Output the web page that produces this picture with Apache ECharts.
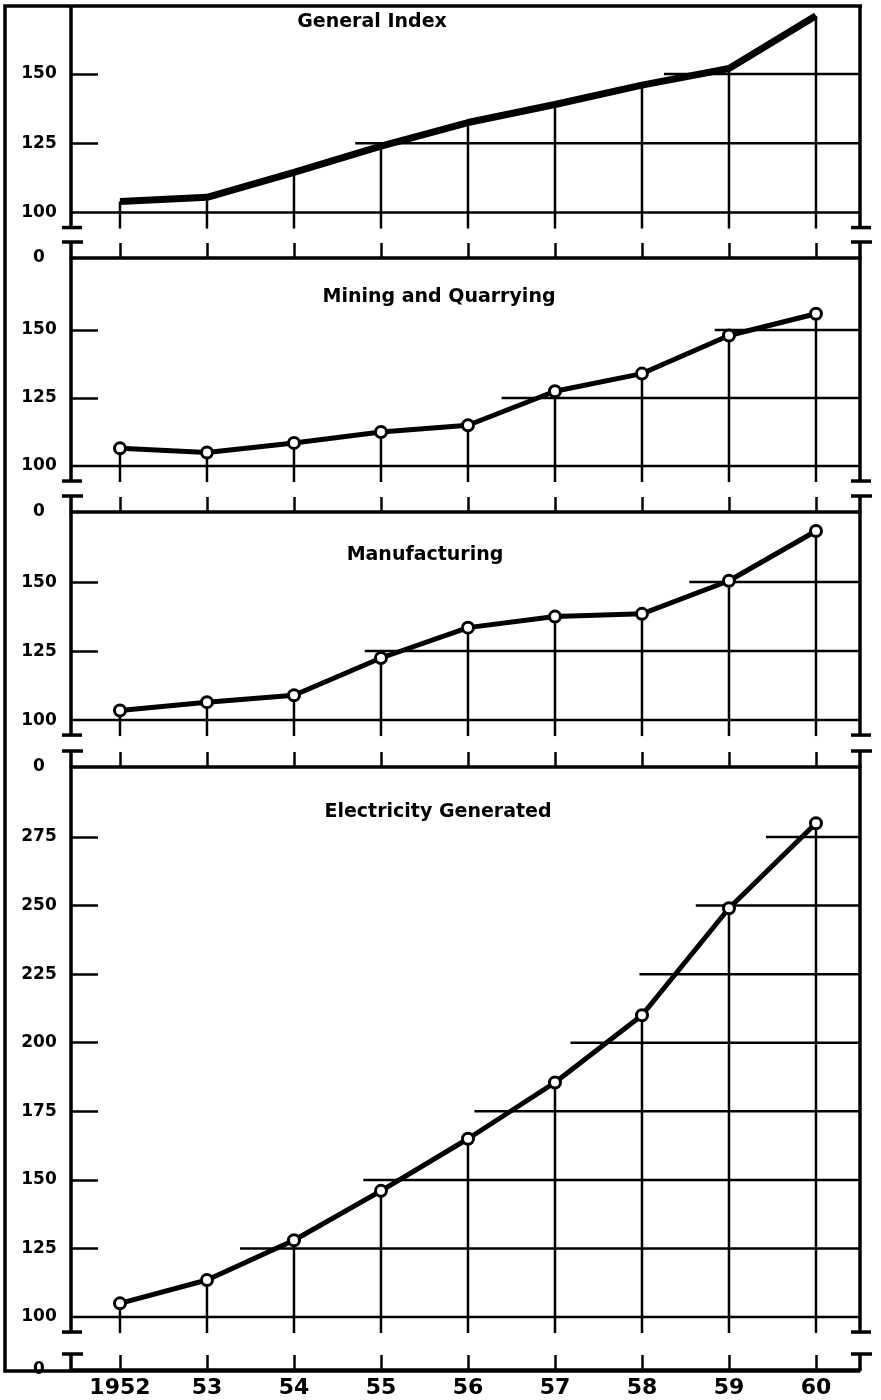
<!DOCTYPE html>
<html>
<head>
<meta charset="utf-8">
<title>Production indices 1952-60</title>
<script src="https://cdn.jsdelivr.net/npm/echarts@6/dist/echarts.min.js"></script>
<style>
  html, body { margin: 0; padding: 0; background: #fff; }
  #chart { width: 881px; height: 1400px; }
</style>
</head>
<body>
<div id="chart"></div>
<script>
  // years along the bottom and how they are printed
  const years = [1952, 1953, 1954, 1955, 1956, 1957, 1958, 1959, 1960];
  const yearLabels = ["1952", "53", "54", "55", "56", "57", "58", "59", "60"];

  // index values
  const generalIndex = [104, 105.5, 114.5, 124, 132.5, 139, 146, 152, 171];
  const miningQuarrying = [106.5, 105, 108.5, 112.5, 115, 127.5, 134, 148, 156];
  const manufacturing = [103.5, 106.5, 109, 122.5, 133.5, 137.5, 138.5, 150.5, 168.5];
  const electricity = [105, 113.5, 128, 146, 165, 185.5, 210, 249, 280];

  // gridline levels on the broken y axes, and their printed labels (0 sits below the break)
  const levelsSmall = [100, 125, 150];
  const levelsLarge = [100, 125, 150, 175, 200, 225, 250, 275];
  const yLabelsSmall = ["0", "100", "125", "150"];
  const yLabelsLarge = ["0", "100", "125", "150", "175", "200", "225", "250", "275"];

  const ink = "#000";
  const font = "DejaVu Sans";

  // layout of the four stacked panels
  const panels = [
    { title: "General Index", values: generalIndex, levels: levelsSmall, labels: yLabelsSmall,
      top: 7, height: 251, min: 83.6, max: 174.2, titleX: 372, titleY: 22, markers: false },
    { title: "Mining and Quarrying", values: miningQuarrying, levels: levelsSmall, labels: yLabelsSmall,
      top: 258, height: 254, min: 83.1, max: 176.5, titleX: 439, titleY: 297, markers: true },
    { title: "Manufacturing", values: manufacturing, levels: levelsSmall, labels: yLabelsSmall,
      top: 512, height: 255, min: 83, max: 175.4, titleX: 425, titleY: 555, markers: true },
    { title: "Electricity Generated", values: electricity, levels: levelsLarge, labels: yLabelsLarge,
      top: 767, height: 603, min: 80.7, max: 300.5, titleX: 438, titleY: 812, markers: true },
  ];

  const xMin = 1951.437;
  const xMax = 1960.506;

  // year where a series first climbs to a level
  function crossingYear(values, level) {
    if (values[0] >= level) return years[0];
    for (let i = 1; i < values.length; i++) {
      if (values[i] >= level) {
        return years[i - 1] + (level - values[i - 1]) / (values[i] - values[i - 1]);
      }
    }
    return null;
  }

  function seg(x1, y1, x2, y2, w) {
    return { type: "line", shape: { x1, y1, x2, y2 }, style: { stroke: ink, lineWidth: w } };
  }

  const grid = [];
  const xAxis = [];
  const yAxis = [];
  const series = [];

  panels.forEach((p, i) => {
    grid.push({ left: 71, right: 21, top: p.top, height: p.height });

    xAxis.push({
      gridIndex: i,
      type: "value",
      min: xMin,
      max: xMax,
      axisLine: { show: true, onZero: false, lineStyle: { color: ink, width: 3.5 } },
      axisTick: { show: true, inside: true, length: 15, customValues: years, lineStyle: { color: ink, width: 2.5 } },
      axisLabel: {
        show: i === panels.length - 1,
        customValues: years,
        formatter: (v) => yearLabels[years.indexOf(v)],
        margin: 7,
        fontSize: 22,
        fontWeight: "bold",
        fontFamily: font,
        color: ink,
      },
      splitLine: { show: false },
    });

    const labelValues = [p.min].concat(p.levels);
    yAxis.push({
      gridIndex: i,
      type: "value",
      min: p.min,
      max: p.max,
      axisLine: { show: false },
      axisTick: { show: true, inside: true, length: 27, customValues: p.levels.slice(1), lineStyle: { color: ink, width: 2.5 } },
      axisLabel: {
        customValues: labelValues,
        formatter: (v) => p.labels[labelValues.indexOf(v)],
        align: "center",
        margin: 32,
        fontSize: 17,
        fontWeight: "bold",
        fontFamily: font,
        color: ink,
      },
      splitLine: { show: false },
    });

    // horizontal rulings, drawn only under the curve
    series.push({
      type: "custom",
      xAxisIndex: i,
      yAxisIndex: i,
      silent: true,
      z: 1,
      data: p.levels.map((l) => [years[0], l]),
      renderItem: (params, api) => {
        const level = api.value(1);
        const cs = params.coordSys;
        const y = api.coord([years[0], level])[1];
        let x0 = cs.x;
        if (level > 100) {
          const cross = crossingYear(p.values, level);
          if (cross === null) return;
          x0 = Math.max(cs.x, api.coord([cross, level])[0] - 36);
        }
        return seg(x0, y, cs.x + cs.width, y, 2.5);
      },
    });

    // vertical drops from each point through the 100 line
    series.push({
      type: "custom",
      xAxisIndex: i,
      yAxisIndex: i,
      silent: true,
      z: 1,
      data: years.map((y, k) => [y, p.values[k]]),
      renderItem: (params, api) => {
        const top = api.coord([api.value(0), api.value(1)]);
        const base = api.coord([api.value(0), 100]);
        return seg(top[0], top[1], top[0], base[1] + 16, 2.5);
      },
    });

    // panel sides with the scale-break marks
    series.push({
      type: "custom",
      xAxisIndex: i,
      yAxisIndex: i,
      silent: true,
      z: 2,
      data: [[years[0], 100]],
      renderItem: (params, api) => {
        const cs = params.coordSys;
        const y100 = api.coord([years[0], 100])[1];
        const yTop = cs.y;
        const yBot = cs.y + cs.height;
        const hi = y100 + 15;
        const lo = yBot - 16;
        const children = [];
        [cs.x, cs.x + cs.width].forEach((x) => {
          children.push(seg(x, yTop, x, hi, 3.5));
          children.push(seg(x - 9, hi, x + 11, hi, 3.5));
          children.push(seg(x - 9, lo, x + 12, lo, 3.5));
          children.push(seg(x, lo, x, yBot, 3.5));
        });
        return { type: "group", children };
      },
    });

    series.push({
      name: p.title,
      type: "line",
      xAxisIndex: i,
      yAxisIndex: i,
      z: 5,
      data: years.map((y, k) => [y, p.values[k]]),
      symbol: p.markers ? "circle" : "none",
      symbolSize: 11,
      itemStyle: { color: "#fff", borderColor: ink, borderWidth: 3 },
      lineStyle: { color: ink, width: p.markers ? 5 : 7 },
    });
  });

  const graphic = [
    {
      type: "polyline",
      shape: { points: [[862, 6], [5, 6], [5, 1371], [860, 1371]] },
      style: { stroke: ink, lineWidth: 3.5, fill: null },
    },
  ].concat(
    panels.map((p) => ({
      type: "text",
      x: p.titleX,
      y: p.titleY,
      style: {
        text: p.title,
        fontSize: 19,
        fontWeight: "bold",
        fontFamily: font,
        fill: ink,
        align: "center",
        verticalAlign: "middle",
      },
    }))
  );

  const chart = echarts.init(document.getElementById("chart"));
  chart.setOption({
    animation: false,
    backgroundColor: "#fff",
    grid,
    xAxis,
    yAxis,
    series,
    graphic,
  });
</script>
</body>
</html>
